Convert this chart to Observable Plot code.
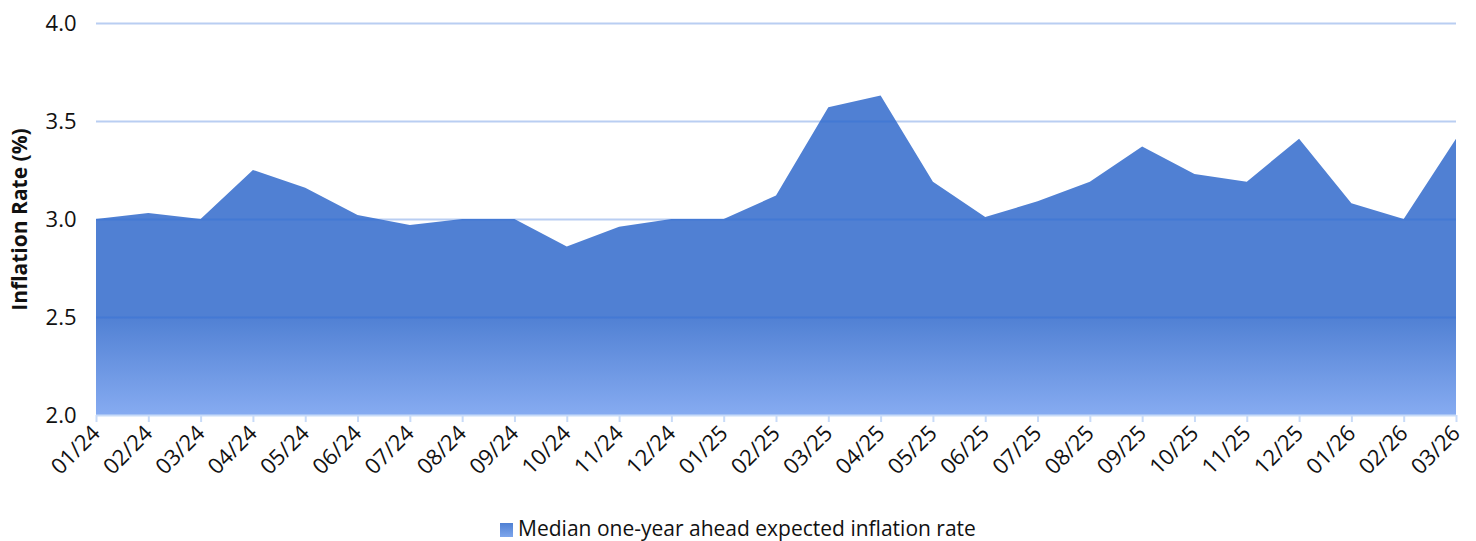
<!DOCTYPE html>
<html>
<head>
<meta charset="utf-8">
<script src="https://cdn.jsdelivr.net/npm/d3@7"></script>
<script src="https://cdn.jsdelivr.net/npm/@observablehq/plot@0.6"></script>
<style>
  html, body { margin: 0; padding: 0; background: #fff; }
  body { width: 1476px; height: 541px; overflow: hidden; font-family: "Open Sans", sans-serif; }
  #legend { position: absolute; left: 0; top: 514px; width: 1476px; text-align: center; font-size: 21px; color: #111; font-family: "Open Sans", sans-serif; }
  #legend .sw { display: inline-block; width: 13px; height: 14px; background: linear-gradient(#4f80d3, #7ea6ec); margin-right: 5px; vertical-align: -1px; }
</style>
</head>
<body>
<div id="chart"></div>
<div id="legend"><span class="sw"></span>Median one-year ahead expected inflation rate</div>
<script>
const months = ["01/24","02/24","03/24","04/24","05/24","06/24","07/24","08/24","09/24","10/24","11/24","12/24",
                "01/25","02/25","03/25","04/25","05/25","06/25","07/25","08/25","09/25","10/25","11/25","12/25",
                "01/26","02/26","03/26"];
const inflation = [3.00, 3.03, 3.00, 3.25, 3.16, 3.02, 2.97, 3.00, 3.00, 2.86, 2.96, 3.00,
                   3.00, 3.12, 3.57, 3.63, 3.19, 3.01, 3.09, 3.19, 3.37, 3.23, 3.19, 3.41,
                   3.08, 3.00, 3.41];
const yTicks = [2.0, 2.5, 3.0, 3.5, 4.0];
const seriesName = "Median one-year ahead expected inflation rate";
const yTitle = "Inflation Rate (%)";

const data = months.map((m, i) => ({month: m, value: inflation[i]}));

const chart = Plot.plot({
  width: 1476,
  height: 510,
  marginLeft: 96,
  marginRight: 20,
  marginTop: 23,
  marginBottom: 95,
  style: {fontFamily: "Open Sans, sans-serif", background: "white"},
  x: {type: "point", domain: months, padding: 0, round: false},
  y: {domain: [2, 4]},
  marks: [
    Plot.areaY(data, {x: "month", y1: 2, y2: "value", fill: "url(#areaGrad)"}),
    Plot.gridY(yTicks.slice(1), {stroke: "#2a6ad8", strokeOpacity: 0.33, strokeWidth: 2}),
    Plot.ruleY([2], {stroke: "#c8dbf8", strokeWidth: 2}),
    Plot.axisY({ticks: yTicks, tickFormat: d3.format(".1f"), tickSize: 0, tickPadding: 20, fontSize: 22, fill: "#111", label: null}),
    Plot.axisX({tickRotate: -45, tickSize: 7, stroke: "#c8dbf8", strokeWidth: 2, fill: "#111", fontSize: 22, tickPadding: 7, label: null}),
    Plot.text([yTitle], {frameAnchor: "left", dx: -76, rotate: -90, textAnchor: "middle", fontSize: 21, fontWeight: "bold", fill: "#111"})
  ]
});

const defs = d3.select(chart).insert("defs", ":first-child");
const g = defs.append("linearGradient").attr("id", "areaGrad").attr("x1", 0).attr("y1", 0).attr("x2", 0).attr("y2", 1);
g.append("stop").attr("offset", "0%").attr("stop-color", "#5080d3");
g.append("stop").attr("offset", "69%").attr("stop-color", "#5080d3");
g.append("stop").attr("offset", "100%").attr("stop-color", "#86abf1");

document.getElementById("chart").appendChild(chart);
</script>
</body>
</html>
